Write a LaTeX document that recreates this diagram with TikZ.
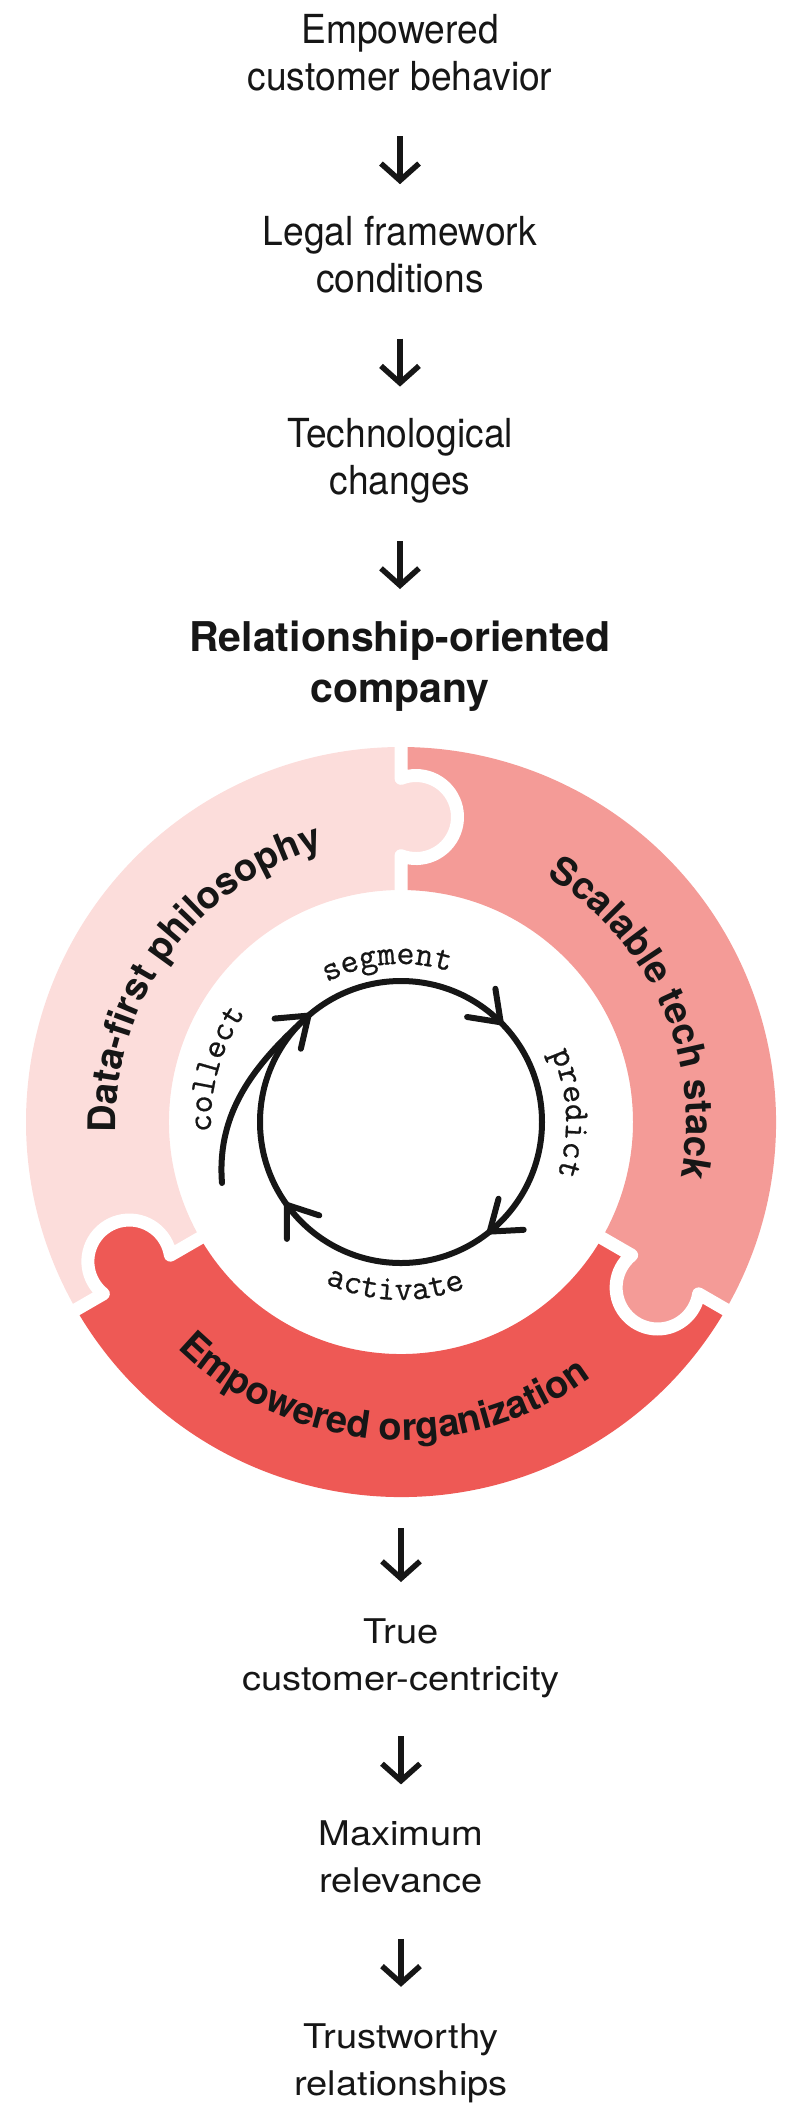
\documentclass[tikz,border=0pt]{standalone}
\usepackage{fontspec}
\setmainfont{TeX Gyre Heros}
\newfontfamily\condfont[FakeStretch=0.93]{TeX Gyre Heros}
\newfontfamily\widefont[FakeStretch=1.12]{TeX Gyre Heros}
\newfontfamily\cyclemono[FakeBold=0.6]{Latin Modern Mono}
\usetikzlibrary{positioning,arrows.meta,decorations.text}

\definecolor{inkblack}{HTML}{161616}
\definecolor{blush}{HTML}{FCDDDB}
\definecolor{salmon}{HTML}{F49B97}
\definecolor{coral}{HTML}{EE5955}

\newcommand\ringlabel{\bfseries\fontsize{38}{38}\selectfont}
\newcommand\cyclefont{\cyclemono\fontsize{35}{35}\selectfont}

\tikzset{
  toptext/.style={align=center, inner sep=0pt, text=inkblack, text height=76pt, text depth=8pt,
    font=\condfont\fontsize{40}{47}\selectfont},
  headtext/.style={toptext, text height=81pt, text depth=8pt,
    font=\bfseries\fontsize{41}{51}\selectfont},
  endtext/.style={toptext, font=\widefont\fontsize{34}{47}\selectfont},
  flow/.style={draw=inkblack, line width=5.5pt, shorten <=38pt, shorten >=32pt,
    -{Straight Barb[length=17pt,width=38pt]}},
  cycleline/.style={draw=inkblack, line width=6pt, line cap=round, line join=round},
  gapline/.style={draw=white, line width=13pt, line join=round}
}

\begin{document}
\begin{tikzpicture}[x=1pt, y=1pt, node distance=118pt]
\useasboundingbox (0,0) rectangle (800,-2110);

% drivers
\node[toptext, anchor=base] (behavior) at (400,-90) {Empowered\\customer behavior};
\node[toptext, below=of behavior] (legal) {Legal framework\\conditions};
\node[toptext, below=of legal] (tech) {Technological\\changes};
\node[headtext, below=of tech] (company) {Relationship-oriented\\company};

\draw[flow] (behavior) -- (legal);
\draw[flow] (legal) -- (tech);
\draw[flow] (tech) -- (company);

% puzzle ring
\begin{scope}[shift={(401,-1122)}]
  \fill[blush] (90:375) arc[start angle=90, end angle=210, radius=375]
    -- (210:232) arc[start angle=210, end angle=90, radius=232] -- cycle;
  \fill[salmon] (-30:375) arc[start angle=-30, end angle=90, radius=375]
    -- (90:232) arc[start angle=90, end angle=-30, radius=232] -- cycle;
  \fill[coral] (210:375) arc[start angle=210, end angle=330, radius=375]
    -- (330:232) arc[start angle=330, end angle=210, radius=232] -- cycle;
  \foreach \g/\c in {90/blush, 210/coral, 330/salmon} {
    \begin{scope}[rotate=\g]
      \fill[\c] (305,-15) circle[radius=41.5];
      \draw[gapline] (226,0) -- (266.3,0) arc[start angle=158.8, end angle=381.2, radius=41.5] -- (381,0);
    \end{scope}
  }
  \path[decorate, decoration={text along path, text align=center, text color=inkblack,
    text={|\ringlabel|Data-first philosophy}}] (200:285) arc[start angle=200, end angle=88, radius=285];
  \path[decorate, decoration={text along path, text align=center, text color=inkblack,
    text={|\ringlabel|Scalable tech stack}}] (80:285) arc[start angle=80, end angle=-32, radius=285];
  \path[decorate, decoration={text along path, text align=center, text color=inkblack,
    text={|\ringlabel|Empowered organization}}] (200:318) arc[start angle=200, end angle=332, radius=318];

  % data cycle
  \draw[cycleline] (0,0) circle[radius=141];
  \draw[cycleline] (-179,-61) .. controls (-185,15) and (-140,63) .. (131:141);
  \foreach \a in {131,45,-51,216} {
    \draw[cycleline, rotate=\a] (141,0) ++(126:34) -- (141,0) -- ++(54:34);
  }
  \path[decorate, decoration={text along path, text align=center, text color=inkblack,
    text={|\cyclefont|segment}}] (145:158) arc[start angle=145, end angle=45, radius=158];
  \path[decorate, decoration={text along path, text align=center, text color=inkblack,
    text={|\cyclefont|predict}}] (53:165) arc[start angle=53, end angle=-47, radius=165];
  \path[decorate, decoration={text along path, text align=center, text color=inkblack,
    text={|\cyclefont|activate}}] (218:178) arc[start angle=218, end angle=318, radius=178];
  \path[decorate, decoration={text along path, text align=center, text color=inkblack,
    text={|\cyclefont|collect}}] (214:190) arc[start angle=214, end angle=114, radius=190];

  \coordinate (ringbase) at (-90:375);
\end{scope}

% outcomes
\node[endtext, below=117pt of ringbase] (centric) {True\\customer-centricity};
\node[endtext, below=of centric] (relevance) {Maximum\\relevance};
\node[endtext, below=of relevance] (trust) {Trustworthy\\relationships};

\draw[flow, shorten <=31pt] (ringbase) -- (centric);
\draw[flow] (centric) -- (relevance);
\draw[flow] (relevance) -- (trust);
\end{tikzpicture}
\end{document}
